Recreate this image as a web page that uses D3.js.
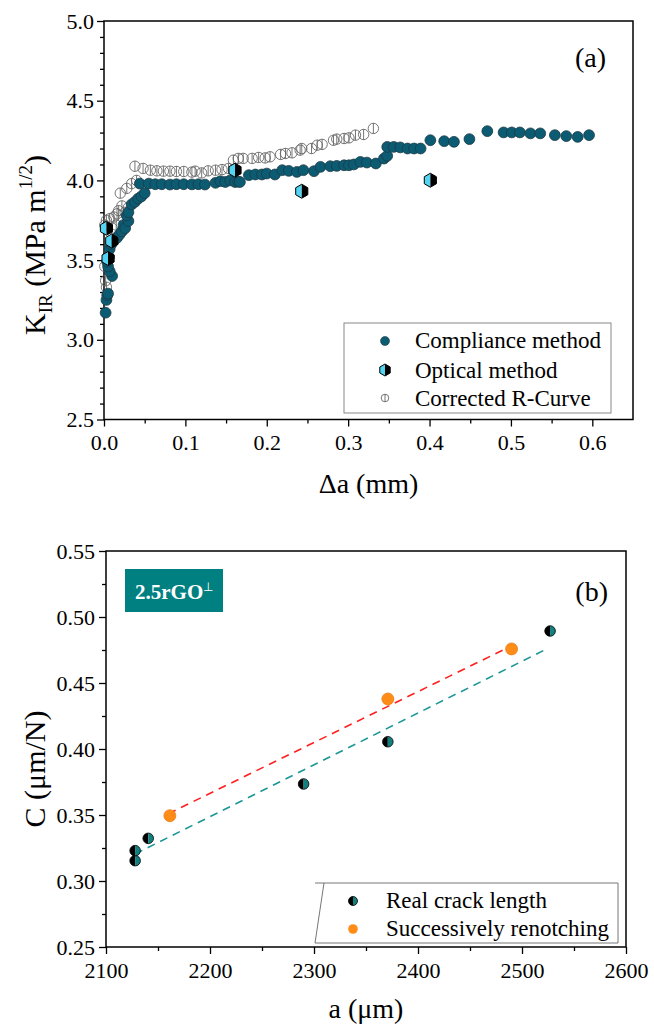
<!DOCTYPE html>
<html>
<head>
<meta charset="utf-8">
<script src="https://cdn.jsdelivr.net/npm/d3@7.9.0/dist/d3.min.js"></script>
<style>
  body { margin: 0; background: #fff; }
  svg { display: block; font-family: "Liberation Serif", "Times New Roman", serif; }
</style>
</head>
<body>
<svg id="chart" width="654" height="1028"></svg>
<script>
// ---- panel (a): R-curve data ----
const compDa = [0.002,0.003,0.004,0.005,0.010,0.007,0.005,0.004,0.006,0.007,0.009,0.012,0.016,0.019,0.022,0.024,0.026,0.030,0.028,0.030,0.034,0.038,0.042,0.046,0.050,0.044,0.055,
  0.063,0.071,0.081,0.089,0.098,0.108,0.116,0.124,0.137,0.143,0.149,0.155,0.161,0.165,0.167,
  0.178,0.186,0.194,0.200,0.210,0.219,0.227,0.237,0.245,0.258,0.266,0.278,0.286,0.295,0.301,0.307,0.315,0.323,0.334,0.344,0.348,
  0.348,0.356,0.364,0.373,0.381,0.389,0.401,0.418,0.430,0.449,0.471,0.491,0.501,0.511,0.524,0.536,0.554,0.568,0.582,0.596];
const compK = [3.17,3.25,3.28,3.29,3.40,3.43,3.46,3.49,3.52,3.57,3.60,3.62,3.64,3.66,3.68,3.72,3.70,3.745,3.78,3.80,3.85,3.865,3.886,3.90,3.92,3.98,3.98,
  3.976,3.976,3.974,3.976,3.976,3.975,3.976,3.974,3.985,3.995,3.99,4.0,3.99,3.992,3.99,
  4.033,4.037,4.037,4.043,4.037,4.064,4.06,4.053,4.064,4.058,4.085,4.089,4.091,4.095,4.095,4.1,4.116,4.112,4.106,4.137,4.154,
  4.21,4.21,4.207,4.2,4.2,4.2,4.252,4.246,4.242,4.259,4.309,4.301,4.301,4.301,4.295,4.295,4.284,4.278,4.273,4.284];

const optDa = [0.003,0.005,0.0095,0.161,0.243,0.401];
const optK  = [3.70,3.51,3.62,4.064,3.932,4.001];

const corrDa = [0.003,0.002,0.001,0.001,0.003,0.007,0.010,0.012,0.015,0.016,0.018,0.022,0.024,0.026,0.030,0.020,0.028,0.034,0.040,
  0.038,0.048,0.057,0.065,0.073,0.081,0.089,0.098,0.108,0.112,0.120,0.128,0.137,0.145,0.153,
  0.159,0.165,0.171,0.182,0.190,0.198,0.204,0.217,0.223,0.231,0.241,0.243,0.255,0.262,0.268,
  0.282,0.286,0.295,0.301,0.309,0.319,0.331];
const corrK = [3.33,3.37,3.46,3.72,3.75,3.76,3.70,3.77,3.72,3.79,3.81,3.84,3.76,3.80,3.83,3.92,3.95,3.98,4.00,
  4.089,4.075,4.064,4.06,4.058,4.058,4.056,4.056,4.052,4.058,4.047,4.06,4.064,4.068,4.075,
  4.127,4.138,4.138,4.138,4.144,4.141,4.148,4.163,4.169,4.173,4.19,4.20,4.20,4.221,4.226,
  4.252,4.259,4.263,4.267,4.284,4.288,4.326];

const aXTicks = [0, 0.1, 0.2, 0.3, 0.4, 0.5, 0.6];
const aYTicks = [2.5, 3.0, 3.5, 4.0, 4.5, 5.0];
const aLegend = ["Compliance method", "Optical method", "Corrected R-Curve"];

// ---- panel (b): compliance vs crack length ----
const realA = [2128, 2128, 2140.6, 2290, 2371, 2527];
const realC = [0.3154, 0.3230, 0.3323, 0.3735, 0.4055, 0.4894];
const renA = [2161.4, 2371, 2490];
const renC = [0.3495, 0.4379, 0.4758];
const fitRealA = [2128, 2523];
const fitRealC = [0.3205, 0.4755];
const fitRenA = [2160, 2487];
const fitRenC = [0.351, 0.477];

const bXTicks = [2100, 2200, 2300, 2400, 2500, 2600];
const bYTicks = [0.25, 0.30, 0.35, 0.40, 0.45, 0.50, 0.55];
const bLegend = ["Real crack length", "Successively renotching"];

const svg = d3.select("#chart");
svg.append("rect").attr("width", 654).attr("height", 1028).attr("fill", "#fff");

function axes(g, x, y, xt, xm, yt, ym, fx, fy, ypad) {
  const [x0, x1] = x.range(), [y0, y1] = y.range();
  const ax = g.append("g").attr("transform", `translate(0,${y0})`)
    .call(d3.axisBottom(x).tickValues(xm).tickSize(4).tickFormat(""));
  const ax2 = g.append("g").attr("transform", `translate(0,${y0})`)
    .call(d3.axisBottom(x).tickValues(xt).tickSize(7).tickPadding(8).tickFormat(fx));
  const ay = g.append("g").attr("transform", `translate(${x0},0)`)
    .call(d3.axisLeft(y).tickValues(ym).tickSize(4).tickFormat(""));
  const ay2 = g.append("g").attr("transform", `translate(${x0},0)`)
    .call(d3.axisLeft(y).tickValues(yt).tickSize(7).tickPadding(ypad).tickFormat(fy));
  [ax, ax2, ay, ay2].forEach(a => {
    a.attr("font-family", null);
    a.select(".domain").remove();
    a.selectAll("line").attr("stroke", "#000").attr("stroke-width", 1.3);
    a.selectAll("text").attr("font-size", 22).attr("fill", "#000");
  });
  g.append("rect").attr("x", x0).attr("y", y1).attr("width", x1 - x0).attr("height", y0 - y1)
    .attr("fill", "none").attr("stroke", "#000").attr("stroke-width", 1.5);
}

// =========== panel (a) ===========
const xa = d3.scaleLinear().domain([0, 0.65]).range([104, 633]);
const ya = d3.scaleLinear().domain([2.5, 5.0]).range([419.5, 21]);
const ga = svg.append("g");
axes(ga, xa, ya, aXTicks, d3.range(0.05, 0.65, 0.1), aYTicks,
  d3.range(2.6, 5.0, 0.1).filter(v => Math.abs(v * 2 - Math.round(v * 2)) > 1e-6),
  d3.format(".1f"), d3.format(".1f"), 3);

function corrMark(g, cx, cy, r) {
  g.append("circle").attr("cx", cx).attr("cy", cy).attr("r", r)
    .attr("fill", "none").attr("stroke", "#666").attr("stroke-width", 0.9);
  g.append("line").attr("x1", cx).attr("x2", cx).attr("y1", cy - r).attr("y2", cy + r)
    .attr("stroke", "#666").attr("stroke-width", 0.9);
}
function hexMark(g, cx, cy, r) {
  const pts = d3.range(6).map(i => {
    const t = Math.PI / 2 + i * Math.PI / 3;
    return [cx + r * Math.cos(t), cy - r * Math.sin(t)];
  });
  // pts: top, upper-left, lower-left, bottom, lower-right, upper-right
  g.append("path").attr("d", d3.line()([pts[0], pts[1], pts[2], pts[3]]) + "Z").attr("fill", "#52d4f2");
  g.append("path").attr("d", d3.line()([pts[3], pts[4], pts[5], pts[0]]) + "Z").attr("fill", "#000");
  g.append("path").attr("d", d3.line()(pts) + "Z").attr("fill", "none")
    .attr("stroke", "#000").attr("stroke-width", 1);
}
function halfMark(g, cx, cy, r) {
  const arcL = d3.arc().innerRadius(0).outerRadius(r).startAngle(Math.PI).endAngle(2 * Math.PI);
  const arcR = d3.arc().innerRadius(0).outerRadius(r).startAngle(0).endAngle(Math.PI);
  g.append("path").attr("transform", `translate(${cx},${cy})`).attr("d", arcL()).attr("fill", "#000");
  g.append("path").attr("transform", `translate(${cx},${cy})`).attr("d", arcR()).attr("fill", "#12807f");
  g.append("circle").attr("cx", cx).attr("cy", cy).attr("r", r).attr("fill", "none")
    .attr("stroke", "#000").attr("stroke-width", 0.8);
}

const gCorr = ga.append("g");
corrDa.forEach((d, i) => corrMark(gCorr, xa(d), ya(corrK[i]), 5.2));
ga.append("g").selectAll("circle").data(compDa).join("circle")
  .attr("cx", d => xa(d)).attr("cy", (d, i) => ya(compK[i])).attr("r", 5.4)
  .attr("fill", "#0b5b73").attr("stroke", "#1d3a44").attr("stroke-width", 0.8);
const gOpt = ga.append("g");
optDa.forEach((d, i) => hexMark(gOpt, xa(d), ya(optK[i]), 7));

// legend (a)
ga.append("rect").attr("x", 344).attr("y", 323).attr("width", 267).attr("height", 90)
  .attr("fill", "#fff").attr("stroke", "#888").attr("stroke-width", 1);
ga.append("circle").attr("cx", 385).attr("cy", 341).attr("r", 4.5)
  .attr("fill", "#0b5b73").attr("stroke", "#1d3a44").attr("stroke-width", 0.6);
hexMark(ga, 385, 370, 6);
corrMark(ga, 385, 398, 3.8);
aLegend.forEach((t, i) => ga.append("text").attr("x", 415).attr("y", [348, 378, 406][i])
  .attr("font-size", 23).text(t));

ga.append("text").attr("x", 606).attr("y", 67).attr("text-anchor", "end").attr("font-size", 28).text("(a)");
ga.append("text").attr("x", xa(0.325)).attr("y", 493).attr("text-anchor", "middle")
  .attr("font-size", 28).text("\u0394a (mm)");
const tla = ga.append("text").attr("transform", "translate(45,245) rotate(-90)")
  .attr("text-anchor", "middle").attr("font-size", 30);
tla.append("tspan").text("K");
tla.append("tspan").attr("font-size", 19).attr("dy", 7).text("IR");
tla.append("tspan").attr("dy", -7).text(" (MPa m");
tla.append("tspan").attr("font-size", 19).attr("dy", -13).text("1/2");
tla.append("tspan").attr("dy", 13).text(")");

// =========== panel (b) ===========
const xb = d3.scaleLinear().domain([2100, 2600]).range([106, 626]);
const yb = d3.scaleLinear().domain([0.25, 0.55]).range([947, 551]);
const gb = svg.append("g");
axes(gb, xb, yb, bXTicks, d3.range(2150, 2600, 100), bYTicks,
  d3.range(0.275, 0.55, 0.05), d3.format("d"), d3.format(".2f"), 4);

const line = d3.line().x(d => xb(d[0])).y(d => yb(d[1]));
gb.append("path").attr("d", line(fitRealA.map((a, i) => [a, fitRealC[i]])))
  .attr("fill", "none").attr("stroke", "#1c9696").attr("stroke-width", 1.6).attr("stroke-dasharray", "8,6");
gb.append("path").attr("d", line(fitRenA.map((a, i) => [a, fitRenC[i]])))
  .attr("fill", "none").attr("stroke", "#ff1f1f").attr("stroke-width", 1.6).attr("stroke-dasharray", "8,6");

gb.append("g").selectAll("circle").data(renA).join("circle")
  .attr("cx", d => xb(d)).attr("cy", (d, i) => yb(renC[i])).attr("r", 6)
  .attr("fill", "#ff8c17").attr("stroke", "#e27a12").attr("stroke-width", 0.7);
const gReal = gb.append("g");
realA.forEach((a, i) => halfMark(gReal, xb(a), yb(realC[i]), 5.3));

// label box
gb.append("rect").attr("x", 125).attr("y", 569).attr("width", 98).attr("height", 43).attr("fill", "#008080");
const lb = gb.append("text").attr("x", 135).attr("y", 599).attr("fill", "#fff")
  .attr("font-weight", "bold").attr("font-size", 21);
lb.append("tspan").text("2.5rGO");
lb.append("tspan").attr("font-size", 12).attr("font-weight", "normal").attr("dy", -8).text("\u22a5");

gb.append("text").attr("x", 608).attr("y", 601).attr("text-anchor", "end").attr("font-size", 28).text("(b)");

// legend (b)
gb.append("path").attr("d", "M315,883 H618 V943 H315 L324,883")
  .attr("fill", "#fff").attr("stroke", "#777").attr("stroke-width", 1);
halfMark(gb, 353, 901, 4.5);
gb.append("circle").attr("cx", 353).attr("cy", 929).attr("r", 4.8).attr("fill", "#ff8c17");
bLegend.forEach((t, i) => gb.append("text").attr("x", 386).attr("y", [908, 936][i])
  .attr("font-size", 23).text(t));

gb.append("text").attr("x", xb(2350)).attr("y", 1018).attr("text-anchor", "middle")
  .attr("font-size", 28).text("a (\u03bcm)");
gb.append("text").attr("transform", "translate(45,769) rotate(-90)")
  .attr("text-anchor", "middle").attr("font-size", 30).text("C (\u03bcm/N)");
</script>
</body>
</html>
